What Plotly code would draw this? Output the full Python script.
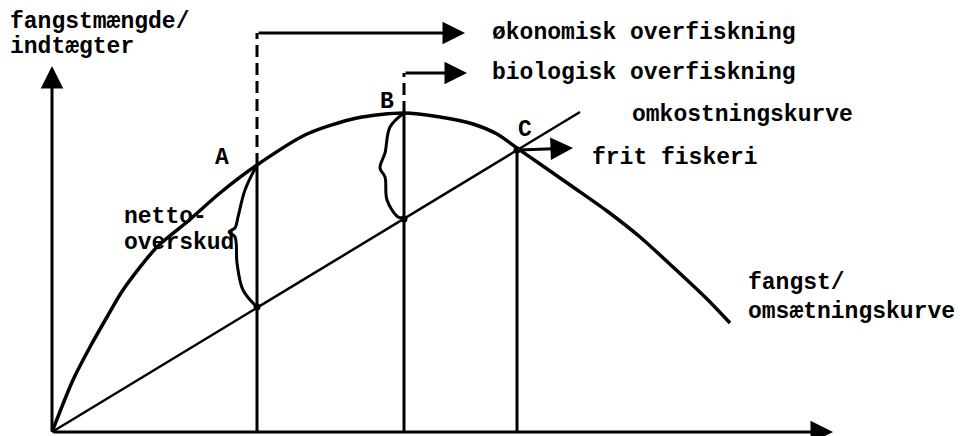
import plotly.graph_objects as go

# Effort (x) vs. catch / revenue (y), in drawing units with origin at axis corner
effort = [0, 21, 38, 55, 71, 105, 135, 168, 205, 255, 305, 352, 388, 421, 445, 465, 488, 521, 555, 588, 621, 655, 678]
revenue = [0, 52, 85, 115, 142, 185, 210, 239, 267, 298, 314, 319, 315, 308, 298, 284, 268, 245, 221, 195, 165, 133, 109]

cost_x = [0, 528]
cost_y = [0, 320]

# Key points: A (economic optimum), B (maximum yield), C (open access)
point_x = {"A": 205, "B": 352, "C": 465}
point_rev = {"A": 267, "B": 319, "C": 284}
point_cost = {"A": 125, "B": 213, "C": 282}

# Braces showing net surplus
brace_a_x = [205, 193, 186, 183, 177, 183, 185, 191, 205]
brace_a_y = [267, 242, 215, 204, 200, 195, 169, 142, 125]
brace_b_x = [352, 338, 333, 328, 333, 335, 346, 352]
brace_b_y = [319, 305, 279, 264, 255, 232, 215, 214]

axis_top = 366
axis_right = 781
top_arrow_y = 399
mid_arrow_y = 359
arrow_end = 413

FONT = dict(family="Liberation Mono, Courier New, monospace", size=23, color="black")

fig = go.Figure()

fig.add_trace(go.Scatter(x=effort, y=revenue, mode="lines",
                         line=dict(color="black", width=3.5, shape="spline", smoothing=0.8)))
fig.add_trace(go.Scatter(x=cost_x, y=cost_y, mode="lines",
                         line=dict(color="black", width=2.5)))

# vertical lines at A, B, C
for k in ["A", "B", "C"]:
    fig.add_trace(go.Scatter(x=[point_x[k], point_x[k]], y=[0, point_rev[k]], mode="lines",
                             line=dict(color="black", width=3)))

# dashed connectors up to the arrows
fig.add_trace(go.Scatter(x=[point_x["A"], point_x["A"]], y=[point_rev["A"], top_arrow_y], mode="lines",
                         line=dict(color="black", width=3, dash="12px,6px")))
fig.add_trace(go.Scatter(x=[point_x["B"], point_x["B"]], y=[point_rev["B"], mid_arrow_y], mode="lines",
                         line=dict(color="black", width=3, dash="12px,6px")))

# braces
fig.add_trace(go.Scatter(x=brace_a_x, y=brace_a_y, mode="lines",
                         line=dict(color="black", width=3, shape="spline")))
fig.add_trace(go.Scatter(x=brace_b_x, y=brace_b_y, mode="lines",
                         line=dict(color="black", width=3, shape="spline")))

# dots at intersections
fig.add_trace(go.Scatter(x=[point_x["A"], point_x["B"], point_x["C"]],
                         y=[point_cost["A"], point_cost["B"], point_cost["C"]],
                         mode="markers", marker=dict(color="black", size=7)))

arrow = dict(showarrow=True, arrowhead=2, arrowsize=1.5, arrowwidth=3, arrowcolor="black",
             xref="x", yref="y", axref="x", ayref="y", text="")
annotations = [
    dict(x=0, y=axis_top, ax=0, ay=0, **arrow),
    dict(x=axis_right, y=0, ax=0, ay=0, **arrow),
    dict(x=arrow_end, y=top_arrow_y, ax=point_x["A"], ay=top_arrow_y, **arrow),
    dict(x=arrow_end + 2, y=mid_arrow_y, ax=point_x["B"], ay=mid_arrow_y, **arrow),
    dict(x=521, y=284, ax=point_x["C"], ay=282, **arrow),
]

labels = [
    ("fangstmængde/", -44, 410), ("indtægter", -44, 385),
    ("økonomisk overfiskning", 438, 399), ("biologisk overfiskning", 438, 359),
    ("omkostningskurve", 578, 317), ("frit fiskeri", 538, 274),
    ("fangst/", 694, 149), ("omsætningskurve", 694, 120),
    ("netto-", 70, 215), ("overskud", 70, 189),
]
for text, x, y in labels:
    annotations.append(dict(x=x, y=y, text="<b>" + text + "</b>", showarrow=False, xanchor="left",
                            yanchor="middle", xref="x", yref="y", font=FONT))
for text, x, y in [("A", 170, 274), ("B", 335, 330), ("C", 473, 302)]:
    annotations.append(dict(x=x, y=y, text="<b>" + text + "</b>", showarrow=False, xanchor="center",
                            yanchor="middle", xref="x", yref="y", font=FONT))

fig.update_layout(
    width=956, height=428,
    margin=dict(l=0, r=0, t=0, b=0),
    showlegend=False,
    plot_bgcolor="white", paper_bgcolor="white",
    xaxis=dict(range=[-44, 912], visible=False),
    yaxis=dict(range=[-4, 424], visible=False),
    annotations=annotations,
)

fig.write_html("out.html")
